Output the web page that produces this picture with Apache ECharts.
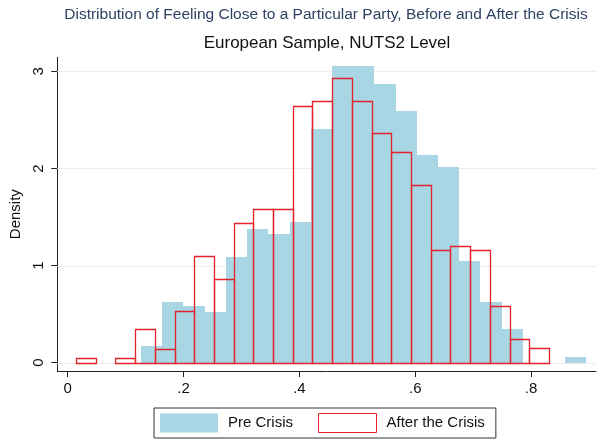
<!DOCTYPE html>
<html>
<head>
<meta charset="utf-8">
<script src="https://cdn.jsdelivr.net/npm/echarts@6/dist/echarts.min.js"></script>
<style>
html,body{margin:0;padding:0;background:#fff;}
#chart{width:598px;height:439px;}
</style>
</head>
<body>
<div id="chart"></div>
<script>
// ---- data ----
var titleText = 'Distribution of Feeling Close to a Particular Party, Before and After the Crisis';
var subtitleText = 'European Sample, NUTS2 Level';
var seriesNames = ['Pre Crisis', 'After the Crisis'];

// Pre crisis histogram: first bin edge, bin width, densities
var preBinStart = 0.1266;
var preBinWidth = 0.03661;
var preDensity = [0.175, 0.625, 0.587, 0.519, 1.085, 1.377, 1.325, 1.446, 2.407, 3.056,
                  3.056, 2.870, 2.595, 2.136, 2.012, 1.047, 0.628, 0.347, 0, 0, 0.056];

// After the crisis histogram
var postBinStart = 0.0143;
var postBinWidth = 0.03402;
var postDensity = [0.05, 0, 0.05, 0.347, 0.141, 0.532, 1.099, 0.862, 1.442, 1.583,
                   1.583, 2.643, 2.695, 2.935, 2.695, 2.363, 2.167, 1.825, 1.156, 1.205,
                   1.158, 0.587, 0.241, 0.148];

var xTickValues = [0, 0.2, 0.4, 0.6, 0.8];
var yTickValues = [0, 1, 2, 3];
var gridValues = [0, 1, 2, 3];

// ---- build ----
function bins(start, width, dens) {
  var out = [];
  for (var i = 0; i < dens.length; i++) {
    out.push([start + i * width, start + (i + 1) * width, dens[i]]);
  }
  return out;
}
var preData = bins(preBinStart, preBinWidth, preDensity);
var postData = bins(postBinStart, postBinWidth, postDensity);

var BLUE = '#a8d6e4';
var RED = '#e4222b';
var FONT = '"Liberation Sans", Arial, sans-serif';

function fillRect(params, api) {
  var p0 = api.coord([api.value(0), api.value(2)]);
  var p1 = api.coord([api.value(1), 0]);
  var x0 = Math.round(p0[0]), x1 = Math.round(p1[0]);
  var y0 = Math.round(p0[1]), y1 = Math.round(p1[1]);
  if (api.value(2) <= 0) return null;
  return {type: 'rect', shape: {x: x0, y: y0, width: x1 - x0, height: y1 - y0},
          style: {fill: BLUE}};
}
function strokeRect(params, api) {
  var p0 = api.coord([api.value(0), api.value(2)]);
  var p1 = api.coord([api.value(1), 0]);
  var x0 = Math.round(p0[0]) + 0.5, x1 = Math.round(p1[0]) + 0.5;
  var y0 = Math.round(p0[1]) + 0.5, y1 = Math.round(p1[1]) + 0.5;
  if (api.value(2) <= 0) return null;
  return {type: 'rect', shape: {x: x0, y: y0, width: x1 - x0, height: y1 - y0},
          style: {fill: null, stroke: RED, lineWidth: 1.3}};
}
function gridLine(params, api) {
  var cs = params.coordSys;
  var p = api.coord([0, api.value(0)]);
  var y = Math.round(p[1]) + 0.5;
  return {type: 'line', shape: {x1: cs.x, y1: y, x2: cs.x + cs.width, y2: y},
          style: {stroke: '#ececec', lineWidth: 1}};
}

var chart = echarts.init(document.getElementById('chart'), null, {renderer: 'canvas'});
chart.setOption({
  animation: false,
  backgroundColor: '#fff',
  textStyle: {fontFamily: FONT},
  graphic: [
    {type: 'text', x: 326, y: 14.5, style: {text: titleText, font: '15.5px ' + FONT,
      fill: '#2f4263', textAlign: 'center', textVerticalAlign: 'middle'}},
    {type: 'text', x: 327, y: 43, style: {text: subtitleText, font: '17px ' + FONT,
      fill: '#111', textAlign: 'center', textVerticalAlign: 'middle'}}
  ],
  grid: {left: 57.3, top: 57.3, right: 2, bottom: 68, containLabel: false},
  legend: {
    left: 154, top: 408,
    padding: [5, 11, 5, 6],
    itemGap: 25, itemWidth: 58, itemHeight: 19,
    borderColor: '#333', borderWidth: 1, borderRadius: 0,
    selectedMode: false,
    textStyle: {fontSize: 15, color: '#111', fontFamily: FONT, padding: [0, 0, 0, 5]},
    data: [
      {name: seriesNames[0], icon: 'rect', itemStyle: {color: BLUE, borderWidth: 0}},
      {name: seriesNames[1], icon: 'rect', itemStyle: {color: '#fff', borderColor: RED, borderWidth: 1}}
    ]
  },
  xAxis: {
    type: 'value', min: -0.018, max: 0.912,
    axisLine: {show: true, onZero: false, lineStyle: {color: '#222', width: 1}},
    axisTick: {show: true, length: 6, customValues: xTickValues, lineStyle: {color: '#222'}},
    axisLabel: {customValues: xTickValues, margin: 10, fontSize: 15, color: '#111', fontFamily: FONT,
      formatter: function (v) { return v === 0 ? '0' : String(v).replace(/^0/, ''); }},
    splitLine: {show: false}
  },
  yAxis: {
    type: 'value', min: -0.0855, max: 3.145,
    name: 'Density', nameLocation: 'middle', nameRotate: 90, nameGap: 22,
    nameTextStyle: {fontSize: 15, color: '#111', fontFamily: FONT},
    axisLine: {show: true, onZero: false, lineStyle: {color: '#222', width: 1}},
    axisTick: {show: true, length: 6, customValues: yTickValues, lineStyle: {color: '#222'}},
    axisLabel: {customValues: yTickValues, rotate: 90, margin: 11, fontSize: 15, color: '#111', fontFamily: FONT},
    splitLine: {show: false}
  },
  series: [
    {type: 'custom', name: 'grid', silent: true, z: 1, data: gridValues.map(function (v) { return [v]; }),
      encode: {y: 0}, renderItem: gridLine, legendHoverLink: false},
    {type: 'custom', name: seriesNames[0], z: 2, data: preData, encode: {x: [0, 1], y: 2},
      itemStyle: {color: BLUE}, renderItem: fillRect},
    {type: 'custom', name: seriesNames[1], z: 3, data: postData, encode: {x: [0, 1], y: 2},
      itemStyle: {color: '#fff', borderColor: RED}, renderItem: strokeRect}
  ]
});
</script>
</body>
</html>
